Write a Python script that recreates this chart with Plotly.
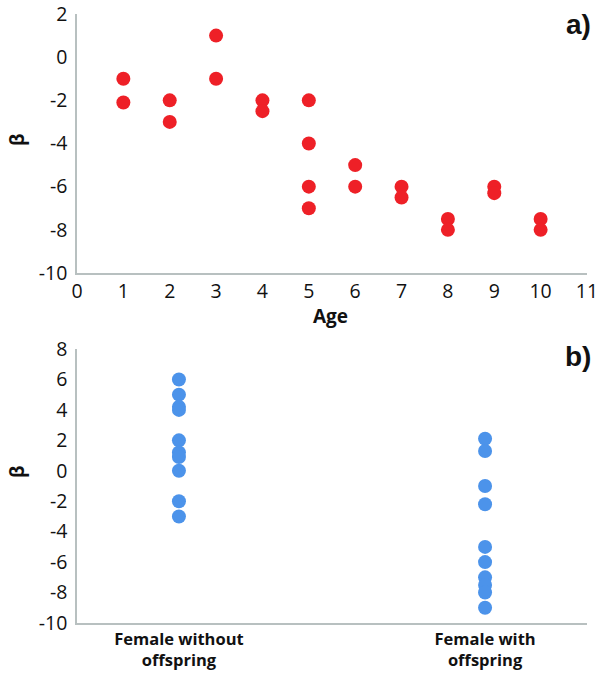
import plotly.graph_objects as go
from plotly.subplots import make_subplots

# Panel a) data
age = [1, 1, 2, 2, 3, 3, 4, 4, 5, 5, 5, 5, 6, 6, 7, 7, 8, 8, 9, 9, 10, 10]
beta_age = [-1, -2.1, -2, -3, 1, -1, -2, -2.5, -2, -4, -6, -7, -5, -6, -6, -6.5, -7.5, -8, -6, -6.3, -7.5, -8]
age_ticks = list(range(0, 12))
beta_ticks_a = [-10, -8, -6, -4, -2, 0, 2]

# Panel b) data
groups = ["Female without<br>offspring", "Female with<br>offspring"]
beta_without = [6, 5, 4.2, 4.0, 2, 1.2, 0.9, 0, -2, -3]
beta_with = [2.1, 1.3, -1, -2.2, -5, -6, -7, -7.5, -8, -9]
beta_ticks_b = [-10, -8, -6, -4, -2, 0, 2, 4, 6, 8]

RED = "#ee2027"
BLUE = "#4c93ea"
AXIS = "#b8c0c0"
FONT = "Open Sans"
INK = "#111111"

W, H = 600, 678
TOP = 14
L, R, T, B = 77, W - 587, TOP, H - 623
PW, PH = 587 - 77, 623 - TOP

fig = make_subplots(rows=2, cols=1)

fig.add_trace(go.Scatter(x=age, y=beta_age, mode="markers",
                         marker=dict(color=RED, size=14), showlegend=False), row=1, col=1)
fig.add_trace(go.Scatter(x=[groups[0]] * len(beta_without), y=beta_without, mode="markers",
                         marker=dict(color=BLUE, size=14), showlegend=False), row=2, col=1)
fig.add_trace(go.Scatter(x=[groups[1]] * len(beta_with), y=beta_with, mode="markers",
                         marker=dict(color=BLUE, size=14), showlegend=False), row=2, col=1)

tickfont = dict(family=FONT, size=19.5, color=INK)
common = dict(showline=True, linecolor=AXIS, linewidth=1.5, showgrid=False, zeroline=False,
              ticks="", automargin=False, ticklabeloverflow="allow")

fig.update_xaxes(row=1, col=1, domain=[0, 1], range=[0, 11.0001],
                 tickvals=age_ticks, ticktext=[str(v) for v in age_ticks],
                 tickfont=tickfont, **common)
fig.update_yaxes(row=1, col=1, domain=[1 - (273 - TOP) / PH, 1], range=[-10, 2.0001],
                 tickvals=beta_ticks_a, ticktext=[str(v) for v in beta_ticks_a],
                 tickfont=tickfont, ticklabelstandoff=4, **common)
fig.update_xaxes(row=2, col=1, domain=[0, 1], type="category", range=[-0.333, 1.333],
                 tickvals=groups, ticktext=["<b>" + g + "</b>" for g in groups],
                 tickfont=dict(family=FONT, size=16.5, color=INK), **common)
fig.update_yaxes(row=2, col=1, domain=[0, (623 - 349) / PH], range=[-10, 8.0001],
                 tickvals=beta_ticks_b, ticktext=[str(v) for v in beta_ticks_b],
                 tickfont=tickfont, ticklabelstandoff=4, **common)

label_font = dict(family=FONT, size=19, color=INK)
fig.add_annotation(text="<b>Age</b>", xref="paper", yref="paper", x=(330 - 77) / PW, y=1 - (316 - TOP) / PH,
                   xanchor="center", yanchor="middle", showarrow=False, font=label_font)
fig.add_annotation(text="<b>β</b>", xref="paper", yref="paper", x=(17 - 77) / PW, y=1 - (140 - TOP) / PH,
                   xanchor="center", yanchor="middle", showarrow=False, textangle=-90, font=label_font)
fig.add_annotation(text="<b>β</b>", xref="paper", yref="paper", x=(17 - 77) / PW, y=1 - (472 - TOP) / PH,
                   xanchor="center", yanchor="middle", showarrow=False, textangle=-90, font=label_font)

panel_font = dict(family="Liberation Sans", size=28, color=INK)
fig.add_annotation(text="<b>a)</b>", xref="paper", yref="paper", x=(593 - 77) / PW, y=1 - (25 - TOP) / PH,
                   xanchor="right", yanchor="middle", showarrow=False, font=panel_font)
fig.add_annotation(text="<b>b)</b>", xref="paper", yref="paper", x=(593 - 77) / PW, y=1 - (356 - TOP) / PH,
                   xanchor="right", yanchor="middle", showarrow=False, font=panel_font)

fig.update_layout(width=W, height=H, plot_bgcolor="white", paper_bgcolor="white",
                  margin=dict(l=L, r=R, t=T, b=B))

# remove the page's default 8px body margin so the figure fills the window
fig.write_html("out.html", config={"displayModeBar": False},
               post_script="document.body.style.margin='0';")
